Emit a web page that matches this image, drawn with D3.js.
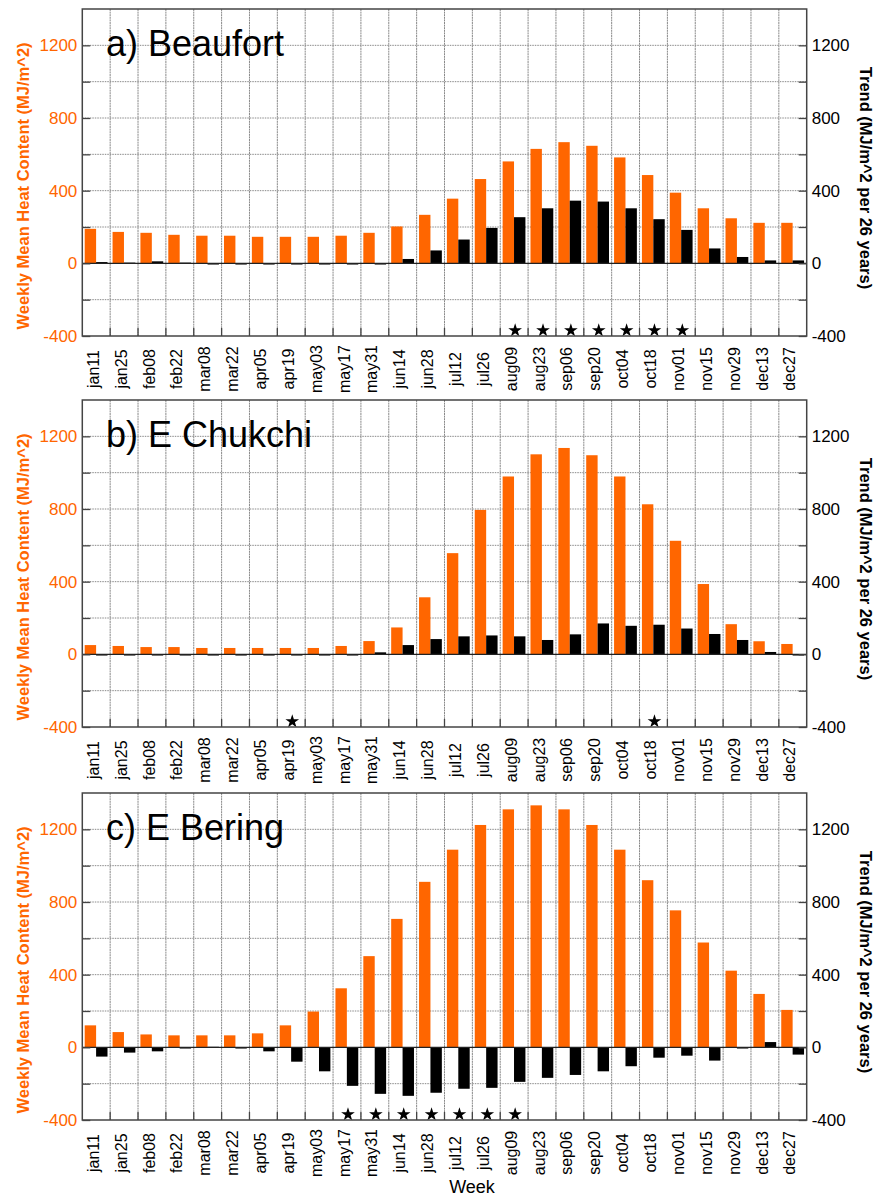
<!DOCTYPE html>
<html>
<head>
<meta charset="utf-8">
<script src="https://cdn.jsdelivr.net/npm/d3@7"></script>
<style>
  body { margin: 0; background: #fff; }
  svg { font-family: "Liberation Sans", Arial, sans-serif; }
</style>
</head>
<body>
<div id="chart"></div>
<script>
// bi-weekly bins
var weeks = ["jan11","jan25","feb08","feb22","mar08","mar22","apr05","apr19","may03","may17","may31","jun14","jun28",
             "jul12","jul26","aug09","aug23","sep06","sep20","oct04","oct18","nov01","nov15","nov29","dec13","dec27"];

var beaufortMean  = [190,173,168,157,152,152,146,146,146,152,168,203,267,356,464,561,630,667,647,583,486,389,303,248,223,223];
var beaufortTrend = [7,4,11,4,0,0,0,-5,-5,-5,0,24,71,131,195,254,303,345,340,303,243,184,82,35,16,16];
var beaufortSig   = ["aug09","aug23","sep06","sep20","oct04","oct18","nov01"];

var chukchiMean  = [51,46,40,40,35,35,35,35,35,46,73,148,314,557,795,979,1101,1136,1096,979,826,625,387,166,72,57];
var chukchiTrend = [-5,-5,0,0,0,0,0,0,0,0,11,51,84,99,104,99,79,110,170,157,163,142,112,79,13,-5];
var chukchiSig   = ["apr19","oct18"];

var beringMean  = [121,84,71,66,66,66,77,121,197,325,502,707,911,1088,1224,1310,1332,1310,1224,1088,920,754,577,422,294,206];
var beringTrend = [-51,-29,-22,0,3,0,-22,-79,-132,-212,-256,-267,-250,-228,-223,-190,-168,-152,-132,-104,-57,-46,-73,-5,29,-40];
var beringSig   = ["may17","may31","jun14","jun28","jul12","jul26","aug09"];

var titles = ["a) Beaufort", "b) E Chukchi", "c) E Bering"];
var yTicks = [-400, 0, 400, 800, 1200];

var orange = "#ff6600";
var W = 876, H = 1197;
var left = 82.3, right = 806.7, ph = 327;
var tops = [9, 400, 793];

var svg = d3.select("#chart").append("svg")
  .attr("width", W).attr("height", H);

var x = d3.scaleBand().domain(weeks).range([left, right]).padding(0);
var xSub = d3.scaleBand().domain(["mean","trend"]).range([2.4, 25.2]).padding(0);

var panels = [
  {mean: beaufortMean, trend: beaufortTrend, sig: beaufortSig},
  {mean: chukchiMean, trend: chukchiTrend, sig: chukchiSig},
  {mean: beringMean, trend: beringTrend, sig: beringSig}
];

panels.forEach(function (p, k) {
  var top = tops[k], bottom = top + ph;
  var y = d3.scaleLinear().domain([-400, 1400]).range([bottom, top]);
  var g = svg.append("g");

  // grid
  g.selectAll(".hgrid").data(d3.range(-200, 1401, 200).filter(function (v) { return v !== 0 && v !== 1400; }))
    .enter().append("line")
    .attr("x1", left).attr("x2", right)
    .attr("y1", function (d) { return y(d); }).attr("y2", function (d) { return y(d); })
    .attr("stroke", "#8a8a8a").attr("stroke-width", 1).attr("stroke-dasharray", "1.5,1");
  g.selectAll(".vgrid").data(weeks.slice(1))
    .enter().append("line")
    .attr("x1", function (d) { return x(d); }).attr("x2", function (d) { return x(d); })
    .attr("y1", top).attr("y2", bottom)
    .attr("stroke", "#8a8a8a").attr("stroke-width", 1).attr("stroke-dasharray", "2,0.6");

  // bars
  var rows = weeks.map(function (w, i) { return {week: w, mean: p.mean[i], trend: p.trend[i]}; });
  g.selectAll(".mean").data(rows).enter().append("rect")
    .attr("x", function (d) { return x(d.week) + xSub("mean"); })
    .attr("width", xSub.bandwidth())
    .attr("y", function (d) { return y(Math.max(0, d.mean)); })
    .attr("height", function (d) { return Math.abs(y(d.mean) - y(0)); })
    .attr("fill", orange);
  g.selectAll(".trend").data(rows).enter().append("rect")
    .attr("x", function (d) { return x(d.week) + xSub("trend"); })
    .attr("width", xSub.bandwidth())
    .attr("y", function (d) { return y(Math.max(0, d.trend)); })
    .attr("height", function (d) { return Math.max(1.2, Math.abs(y(d.trend) - y(0))); })
    .attr("fill", "#000");

  // zero line
  g.append("line").attr("x1", left).attr("x2", right)
    .attr("y1", y(0)).attr("y2", y(0))
    .attr("stroke", "#222").attr("stroke-width", 1.2);

  // significance stars
  g.selectAll(".star").data(p.sig).enter().append("path")
    .attr("d", d3.symbol().type(d3.symbolStar).size(58))
    .attr("transform", function (d) { return "translate(" + (x(d) + x.bandwidth() / 2 + 1) + "," + (bottom - 5.5) + ")"; })
    .attr("fill", "#000");

  // axes
  var yl = g.append("g").attr("transform", "translate(" + left + ",0)")
    .call(d3.axisLeft(y).tickValues(d3.range(-400, 1201, 200)).tickSizeInner(-8).tickSizeOuter(0)
      .tickFormat(function (d) { return yTicks.indexOf(d) >= 0 ? d : ""; }));
  var yr = g.append("g").attr("transform", "translate(" + right + ",0)")
    .call(d3.axisRight(y).tickValues(d3.range(-400, 1201, 200)).tickSizeInner(-8).tickSizeOuter(0)
      .tickFormat(function (d) { return yTicks.indexOf(d) >= 0 ? d : ""; }));
  [yl, yr].forEach(function (a) {
    a.select(".domain").remove();
    a.selectAll(".tick line").attr("stroke", "#444").attr("stroke-width", 1.3);
    a.selectAll(".tick text").attr("font-size", 17).style("font-family", "Liberation Sans, Arial, sans-serif");
  });
  yl.selectAll(".tick text").attr("fill", orange).attr("x", -5);
  yr.selectAll(".tick text").attr("fill", "#000").attr("x", 5);

  var xb = g.append("g").attr("transform", "translate(0," + bottom + ")")
    .call(d3.axisBottom(x).tickSizeInner(0).tickSizeOuter(0));
  xb.select(".domain").remove();
  xb.selectAll(".tick line").remove();
  xb.selectAll(".tick text")
    .attr("font-size", 16).style("font-family", "Liberation Sans, Arial, sans-serif").attr("fill", "#000")
    .attr("transform", "translate(-3,33) rotate(-90)")
    .attr("x", 0).attr("y", 0).attr("dy", "0.35em")
    .attr("text-anchor", "middle");

  // bottom boundary ticks
  g.selectAll(".btick").data(weeks.slice(1)).enter().append("line")
    .attr("x1", function (d) { return x(d); }).attr("x2", function (d) { return x(d); })
    .attr("y1", bottom).attr("y2", bottom - 8)
    .attr("stroke", "#444").attr("stroke-width", 1.3);

  // frame
  g.append("rect").attr("x", left).attr("y", top).attr("width", right - left).attr("height", ph)
    .attr("fill", "none").attr("stroke", "#444").attr("stroke-width", 1.5);

  // title
  g.append("text").attr("x", 106).attr("y", top + 47)
    .attr("font-size", 36).attr("fill", "#000").text(titles[k]);

  // axis titles
  g.append("text")
    .attr("transform", "translate(23," + (top + 177) + ") rotate(-90)")
    .attr("text-anchor", "middle").attr("dy", "0.35em")
    .attr("font-size", 16.5).attr("font-weight", "bold").attr("fill", orange)
    .text("Weekly Mean Heat Content (MJ/m^2)");
  g.append("text")
    .attr("transform", "translate(866," + (top + 169) + ") rotate(90)")
    .attr("text-anchor", "middle").attr("dy", "0.35em")
    .attr("font-size", 16.5).attr("font-weight", "bold").attr("fill", "#000")
    .text("Trend (MJ/m^2 per 26 years)");
});

svg.append("text").attr("x", 472).attr("y", 1193)
  .attr("text-anchor", "middle").attr("font-size", 18).attr("fill", "#000")
  .text("Week");
</script>
</body>
</html>
